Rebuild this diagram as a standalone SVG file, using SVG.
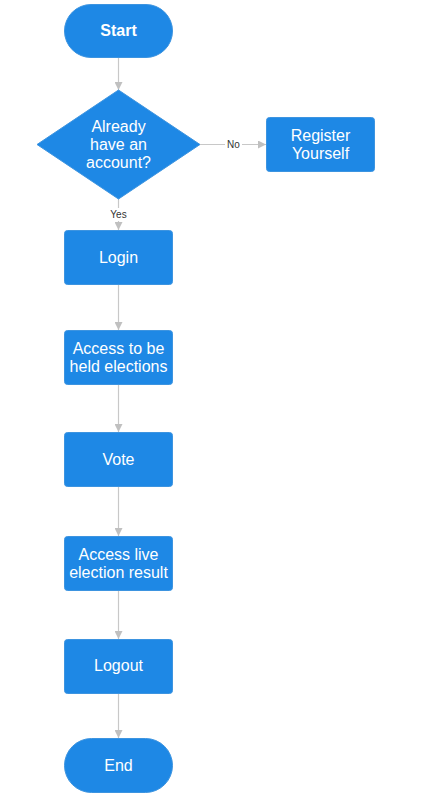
<svg xmlns="http://www.w3.org/2000/svg" width="427" height="795" viewBox="0 0 427 795">
<defs>
<marker id="arr" viewBox="0 0 10 10" refX="10" refY="5" markerWidth="8" markerHeight="8" markerUnits="userSpaceOnUse" orient="auto">
<path d="M0,0 L10,5 L0,10 Z" fill="#c0c0c0"/>
</marker>
</defs>
<style>
.n{fill:#1e88e5;stroke:#3d94e0;stroke-width:1}
.t{fill:#ffffff;font-family:"Liberation Sans",Arial,sans-serif;font-size:16px;text-anchor:middle}
.b{font-weight:bold}
.c{fill:none;stroke:#c8c8c8;stroke-width:1.2}
.l{fill:#333333;font-family:"Liberation Sans",Arial,sans-serif;font-size:10px;text-anchor:middle}
</style>
<rect width="427" height="795" fill="#ffffff"/>
<g id="connectors">
<line class="c" x1="118.5" y1="57" x2="118.5" y2="90" marker-end="url(#arr)"/>
<line class="c" x1="200" y1="144.5" x2="266" y2="144.5" marker-end="url(#arr)"/>
<rect x="225" y="138" width="17" height="13" fill="#ffffff"/>
<text class="l" x="233.5" y="148">No</text>
<line class="c" x1="118.5" y1="199" x2="118.5" y2="230" marker-end="url(#arr)"/>
<rect x="108" y="208" width="21" height="13" fill="#ffffff"/>
<text class="l" x="118.5" y="218">Yes</text>
<line class="c" x1="118.5" y1="284" x2="118.5" y2="330" marker-end="url(#arr)"/>
<line class="c" x1="118.5" y1="384" x2="118.5" y2="432" marker-end="url(#arr)"/>
<line class="c" x1="118.5" y1="486" x2="118.5" y2="536" marker-end="url(#arr)"/>
<line class="c" x1="118.5" y1="590" x2="118.5" y2="639" marker-end="url(#arr)"/>
<line class="c" x1="118.5" y1="693" x2="118.5" y2="738" marker-end="url(#arr)"/>
</g>
<g id="start">
<rect class="n" x="64.5" y="4.5" width="108" height="53" rx="26.5"/>
<text class="t b" x="118.5" y="36">Start</text>
</g>
<g id="decision">
<polygon class="n" points="118.5,90 200,144.5 118.5,199 37,144.5"/>
<text class="t" x="118.5" y="132">Already</text>
<text class="t" x="118.5" y="150">have an</text>
<text class="t" x="118.5" y="168">account?</text>
</g>
<g id="register">
<rect class="n" x="266.5" y="117.5" width="108" height="54" rx="3"/>
<text class="t" x="320.5" y="141">Register</text>
<text class="t" x="320.5" y="159">Yourself</text>
</g>
<g id="login">
<rect class="n" x="64.5" y="230.5" width="108" height="54" rx="3"/>
<text class="t" x="118.5" y="262.5">Login</text>
</g>
<g id="access-elections">
<rect class="n" x="64.5" y="330.5" width="108" height="54" rx="3"/>
<text class="t" x="118.5" y="354">Access to be</text>
<text class="t" x="118.5" y="372">held elections</text>
</g>
<g id="vote">
<rect class="n" x="64.5" y="432.5" width="108" height="54" rx="3"/>
<text class="t" x="118.5" y="465">Vote</text>
</g>
<g id="access-results">
<rect class="n" x="64.5" y="536.5" width="108" height="54" rx="3"/>
<text class="t" x="118.5" y="560">Access live</text>
<text class="t" x="118.5" y="578">election result</text>
</g>
<g id="logout">
<rect class="n" x="64.5" y="639.5" width="108" height="54" rx="3"/>
<text class="t" x="118.5" y="671">Logout</text>
</g>
<g id="end">
<rect class="n" x="64.5" y="738.5" width="108" height="54" rx="27"/>
<text class="t" x="118.5" y="771">End</text>
</g>
</svg>
